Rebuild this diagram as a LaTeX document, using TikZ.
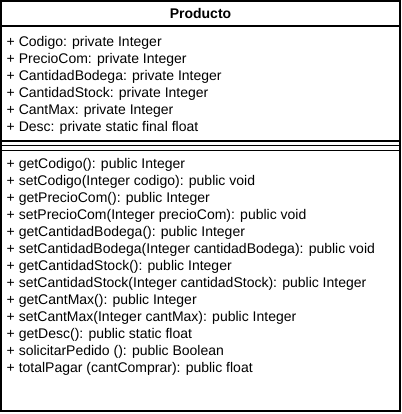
\documentclass[tikz,border=0pt]{standalone}
\usepackage{fontspec}
\setmainfont{Liberation Sans}
\begin{document}
\begin{tikzpicture}[x=1pt,y=-1pt,
  umlline/.style={line width=1.5pt,black},
  row/.style={anchor=base west,inner sep=0pt,font=\fontsize{14}{16}\selectfont},
  titletext/.style={anchor=base,inner sep=0pt,font=\fontsize{14}{16}\selectfont\bfseries}]
\useasboundingbox (0,0) rectangle (401,414);
\fill[white] (0,0) rectangle (401,414);
% frame
\draw[umlline] (1,1) rectangle (400,411);
\draw[umlline] (1,26) -- (400,26);
\draw[umlline] (1,141) -- (400,141);
\draw[umlline] (1,145.7) -- (400,145.7);
\draw[umlline] (1,150.5) -- (400,150.5);
% title
\node[titletext] (title) at (200.5,19) {Producto};
% attributes
\foreach \t [count=\i from 0] in {%
  {+ Codigo: private Integer},
  {+ PrecioCom: private Integer},
  {+ CantidadBodega: private Integer},
  {+ CantidadStock: private Integer},
  {+ CantMax: private Integer},
  {+ Desc: private static final float}}
  \node[row] (attr\i) at (6.5,{46.8+16.9*\i}) {\t};
% methods
\foreach \t [count=\i from 0] in {%
  {+ getCodigo(): public Integer},
  {+ setCodigo(Integer codigo): public void},
  {+ getPrecioCom(): public Integer},
  {+ setPrecioCom(Integer precioCom): public void},
  {+ getCantidadBodega(): public Integer},
  {+ setCantidadBodega(Integer cantidadBodega): public void},
  {+ getCantidadStock(): public Integer},
  {+ setCantidadStock(Integer cantidadStock): public Integer},
  {+ getCantMax(): public Integer},
  {+ setCantMax(Integer cantMax): public Integer},
  {+ getDesc(): public static float},
  {+ solicitarPedido (): public Boolean},
  {+ totalPagar (cantComprar): public float}}
  \node[row] (meth\i) at (6.5,{168+17*\i}) {\t};
\end{tikzpicture}
\end{document}
